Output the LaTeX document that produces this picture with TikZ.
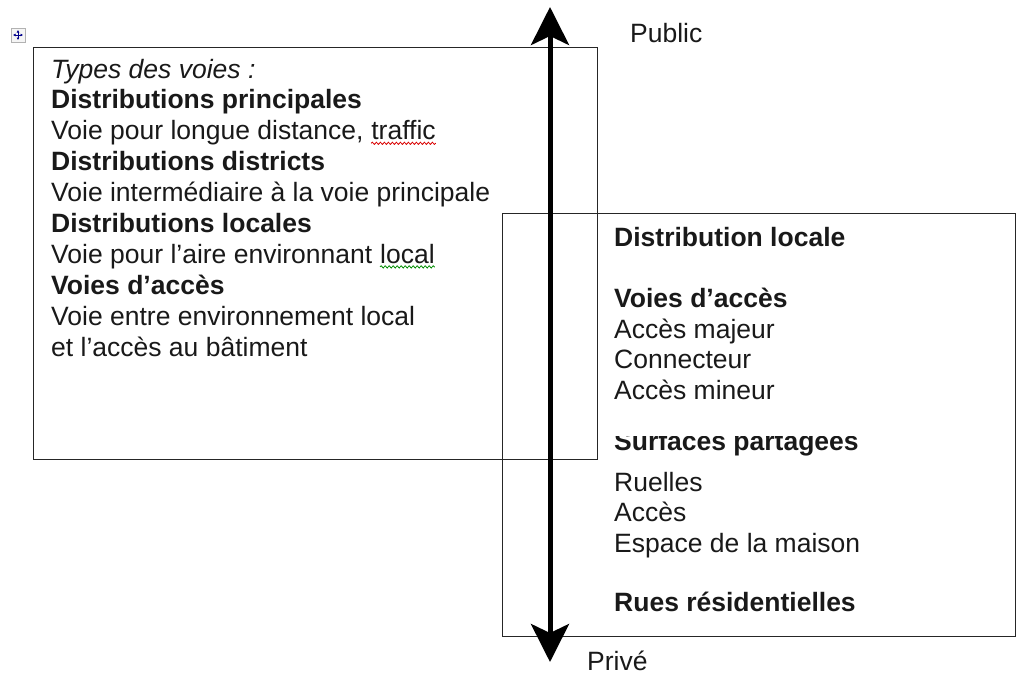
\documentclass[tikz,border=0pt]{standalone}
\usepackage{fontspec}
\setmainfont{Liberation Sans}
\usetikzlibrary{arrows.meta,decorations.pathmorphing}
\begin{document}
\begin{tikzpicture}[x=1pt,y=-1pt,
  txt/.style={anchor=base west,inner sep=0pt,text=black!90,font=\fontsize{26.5}{30.9}\selectfont},
  bld/.style={txt,font=\fontsize{26.5}{30.9}\selectfont\bfseries},
  itl/.style={txt,font=\fontsize{26.5}{30.9}\selectfont\itshape},
  frame/.style={draw=black!85,line width=1.3pt,inner sep=0pt,anchor=north west},
  squig/.style={decorate,decoration={snake,amplitude=1.1pt,segment length=4pt},line width=0.8pt},
  bigarrow/.style={line width=5pt,{Stealth[length=38pt,width=38pt,inset=9pt]}-{Stealth[length=38pt,width=38pt,inset=9pt]}}]
\useasboundingbox (0,0) rectangle (1016,675);
% frames
\node[frame,minimum width=564pt,minimum height=412pt] (leftbox) at (33,47) {};
\node[frame,minimum width=513pt,minimum height=423pt] (rightbox) at (502,213) {};
% move handle
\node[draw=gray!60,fill=gray!8,minimum size=14pt,inner sep=0pt,line width=0.7pt] (handle) at (18,35) {};
\draw[blue!55!black,line width=0.7pt,{Latex[length=2.5pt,width=3pt]}-{Latex[length=2.5pt,width=3pt]}] ([yshift=5pt]handle.center) -- ([yshift=-5pt]handle.center);
\draw[blue!55!black,line width=0.7pt,{Latex[length=2.5pt,width=3pt]}-{Latex[length=2.5pt,width=3pt]}] ([xshift=-5pt]handle.center) -- ([xshift=5pt]handle.center);
% arrow
\coordinate (top) at (550,7);
\coordinate (bot) at (550,662);
\draw[bigarrow] (top) -- (bot);
\node[txt] (public) at (630,42) {Public};
\node[txt] (prive) at (587,670) {Privé};
% left text
\node[itl] (l1) at (51,78) {Types des voies :};
\node[bld] (l2) at (51,108.9) {Distributions principales};
\node[txt] (l3) at (51,139.8) {Voie pour longue distance,};
\node[txt] (l3b) at ([xshift=7.4pt]l3.base east) {traffic};
\node[bld] (l4) at (51,170.7) {Distributions districts};
\node[txt] (l5) at (51,201.6) {Voie intermédiaire à la voie principale};
\node[bld] (l6) at (51,232.5) {Distributions locales};
\node[txt] (l7) at (51,263.4) {Voie pour l’aire environnant};
\node[txt] (l7b) at ([xshift=7.4pt]l7.base east) {local};
\node[bld] (l8) at (51,294.3) {Voies d’accès};
\node[txt] (l9) at (51,325.2) {Voie entre environnement local};
\node[txt] (l10) at (51,356.1) {et l’accès au bâtiment};
\draw[squig,red!85!black] ([yshift=-3.5pt]l3b.base west) -- ([yshift=-3.5pt]l3b.base east);
\draw[squig,green!55!black] ([yshift=-3.5pt]l7b.base west) -- ([yshift=-3.5pt]l7b.base east);
% right text
\node[bld] (r1) at (614,246) {Distribution locale};
\node[bld] (r2) at (614,307) {Voies d’accès};
\node[txt] (r3) at (614,338) {Accès majeur};
\node[txt] (r4) at (614,368) {Connecteur};
\node[txt] (r5) at (614,399) {Accès mineur};
\begin{scope}
\clip (600,436) rectangle (1000,472);
\node[bld] (r6) at (614,450) {Surfaces partagées};
\end{scope}
\node[txt] (r7) at (614,491) {Ruelles};
\node[txt] (r8) at (614,521) {Accès};
\node[txt] (r9) at (614,552) {Espace de la maison};
\node[bld] (r10) at (614,611) {Rues résidentielles};
\end{tikzpicture}
\end{document}
